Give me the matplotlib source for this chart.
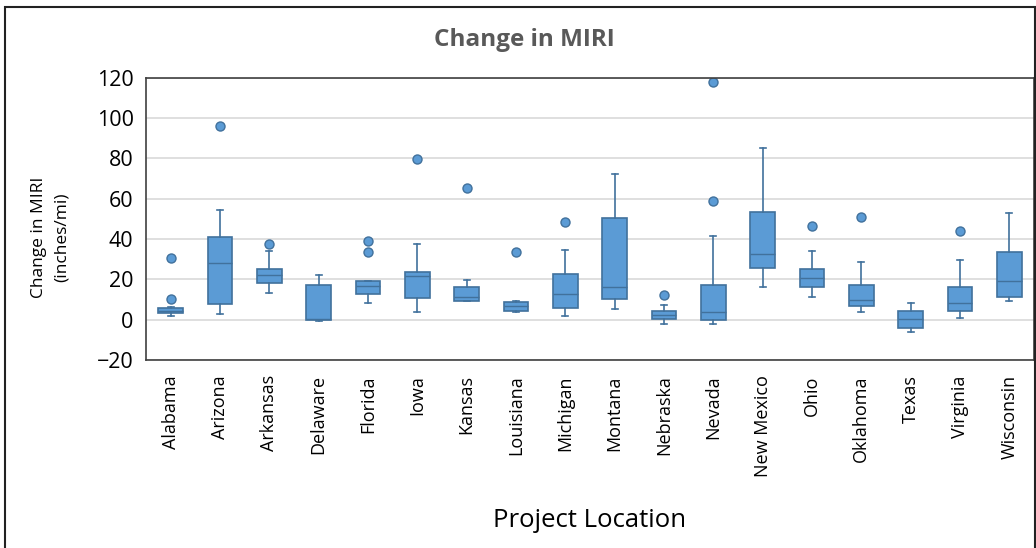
import matplotlib
matplotlib.use('Agg')
import matplotlib.pyplot as plt
import matplotlib.patches as patches

plt.rcParams['font.family'] = ['Open Sans', 'DejaVu Sans']

# box statistics (inches/mi)
states = ['Alabama', 'Arizona', 'Arkansas', 'Delaware', 'Florida', 'Iowa',
          'Kansas', 'Louisiana', 'Michigan', 'Montana', 'Nebraska', 'Nevada',
          'New Mexico', 'Ohio', 'Oklahoma', 'Texas', 'Virginia', 'Wisconsin']
whis_lo = [2.0, 3.0, 13.4, -0.5, 8.2, 3.7, 9.2, 3.7, 2.0, 5.2, -2.2, -2.2,
           16.3, 11.1, 3.8, -5.9, 0.7, 9.2]
q1 = [3.3, 7.9, 18.3, 0.0, 12.9, 10.9, 9.2, 4.2, 5.7, 10.1, 0.3, -0.2,
      25.8, 16.0, 6.6, -3.9, 4.4, 11.1]
med = [4.5, 28.3, 22.0, 0.5, 16.8, 21.7, 11.3, 7.0, 12.6, 16.2, 2.5, 4.0,
       32.8, 20.9, 9.6, 0.3, 8.4, 19.3]
q3 = [5.9, 41.2, 25.4, 17.2, 19.3, 23.9, 16.3, 8.7, 22.5, 50.5, 4.5, 17.2,
      53.3, 25.4, 17.2, 4.5, 16.3, 33.5]
whis_hi = [6.5, 54.2, 34.0, 22.2, 19.3, 37.4, 19.7, 9.4, 34.7, 72.5, 7.2, 41.6,
           85.3, 34.2, 28.8, 8.1, 29.6, 52.7]
outliers = [[10.1, 30.6], [96.0], [37.5], [], [33.6, 39.0], [79.8], [65.5],
            [33.6], [48.5], [], [12.3], [58.9, 117.7], [], [46.3], [50.8], [],
            [44.1], []]

stats = []
for i in range(len(states)):
    stats.append(dict(label=states[i], whislo=whis_lo[i], q1=q1[i], med=med[i],
                      q3=q3[i], whishi=whis_hi[i], fliers=outliers[i]))

fig = plt.figure(figsize=(10.36, 5.48), dpi=100)
ax = fig.add_axes([0.141, 0.343, 0.857, 0.515])

blue = '#5b9bd5'
edge = '#41719c'
ax.bxp(stats, widths=0.5, patch_artist=True, showfliers=True,
       boxprops=dict(facecolor=blue, edgecolor=edge, linewidth=1.2),
       medianprops=dict(color=edge, linewidth=1.0),
       whiskerprops=dict(color=edge, linewidth=1.2),
       capprops=dict(color=edge, linewidth=1.2),
       capwidths=0.12,
       flierprops=dict(marker='o', markerfacecolor=blue, markeredgecolor=edge,
                       markersize=6.5))

ax.set_ylim(-20, 120)
ax.set_xlim(0.5, len(states) + 0.5)
ax.set_yticks(range(-20, 121, 20))
ax.yaxis.grid(True, color='#d9d9d9', linewidth=1.2)
ax.set_axisbelow(True)
ax.tick_params(axis='y', length=0, labelsize=15.5, pad=9)
ax.tick_params(axis='x', length=0, labelsize=13, rotation=90, pad=11)
for s in ax.spines.values():
    s.set_color('#404040')
    s.set_linewidth(1.2)

# axis titles placed in figure coordinates
fig.text(0.049, 0.567, 'Change in MIRI\n(inches/mi)', rotation=90,
         ha='center', va='center', multialignment='center',
         fontsize=12.5, linespacing=1.55)
fig.text(0.5695, 0.051, 'Project Location', ha='center', va='center',
         fontsize=18.5)
fig.text(0.506, 0.927, 'Change in MIRI', ha='center', va='center',
         fontsize=17.5, fontweight='bold', color='#595959')

# outer frame around the whole chart
fig.patches.append(patches.Rectangle((0.005, -0.01), 0.994, 0.997,
                                     transform=fig.transFigure, fill=False,
                                     edgecolor='#222222', linewidth=1.5))

fig.savefig('out.png', dpi=100)
